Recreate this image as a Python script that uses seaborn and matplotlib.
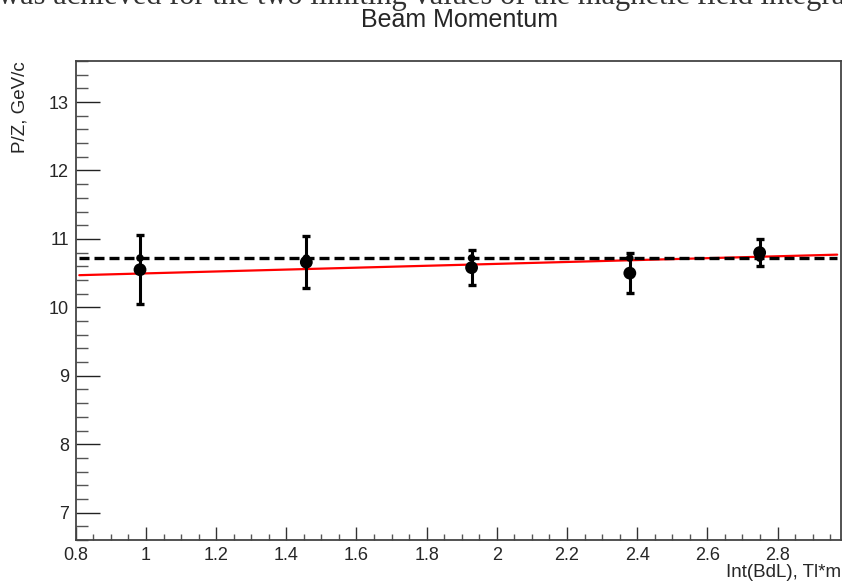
import numpy as np
import pandas as pd
import matplotlib
matplotlib.use("Agg")
import matplotlib.pyplot as plt
import seaborn as sns
from matplotlib.ticker import MultipleLocator

# ---- data ----
bdl = [0.983, 1.457, 1.928, 2.379, 2.749]            # Int(BdL), Tl*m
pz = [10.55, 10.66, 10.58, 10.50, 10.80]              # P/Z, GeV/c
pz_err = [0.50, 0.38, 0.26, 0.29, 0.20]
pz_ref = [10.72, 10.72, 10.72, 10.72, 10.72]          # small markers
mean_x = [0.81, 2.97]
mean_y = [10.72, 10.72]                               # dashed mean line
fit_x = [0.81, 2.97]
fit_y = [10.47, 10.77]                                # red linear fit

title = "Beam Momentum"
xlabel = "Int(BdL), Tl*m"
ylabel = "P/Z, GeV/c"
top_text = "was achieved for the two limiting values of the magnetic field integral"

sns.set_theme(style="white")
plt.rcParams['font.family'] = ['Liberation Sans', 'DejaVu Sans']

fig = plt.figure(figsize=(8.42, 5.83), dpi=100)
W, H = 842, 583
ax = fig.add_axes([75.8 / W, 1 - 540 / H, (840.7 - 75.8) / W, (540 - 61) / H])

df = pd.DataFrame({"x": bdl, "y": pz, "yr": pz_ref})
dmean = pd.DataFrame({"x": mean_x, "y": mean_y})
dfit = pd.DataFrame({"x": fit_x, "y": fit_y})

sns.lineplot(data=dfit, x="x", y="y", ax=ax, color="#ff0000", lw=1.6, zorder=2)
sns.lineplot(data=dmean, x="x", y="y", ax=ax, color="black", lw=2.4,
             dashes=False, zorder=3).lines[-1].set_dashes((3.0, 1.5))
ax.errorbar(bdl, pz, yerr=pz_err, fmt="none", ecolor="black", elinewidth=2.2,
            capsize=2.6, capthick=2.4, zorder=4)
sns.scatterplot(data=df, x="x", y="yr", ax=ax, color="black", s=30,
                edgecolor="none", zorder=5)
sns.scatterplot(data=df, x="x", y="y", ax=ax, color="black", s=85,
                edgecolor="none", zorder=6)

ax.set_xlim(0.8, 2.98)
ax.set_ylim(6.6, 13.6)
ax.xaxis.set_major_locator(MultipleLocator(0.2))
ax.xaxis.set_minor_locator(MultipleLocator(0.05))
ax.yaxis.set_major_locator(MultipleLocator(1))
ax.yaxis.set_minor_locator(MultipleLocator(0.2))
ax.set_xticks([0.8, 1.0, 1.2, 1.4, 1.6, 1.8, 2.0, 2.2, 2.4, 2.6, 2.8])
ax.set_xticklabels(["0.8", "1", "1.2", "1.4", "1.6", "1.8", "2", "2.2", "2.4", "2.6", "2.8"])
ax.set_yticks([7, 8, 9, 10, 11, 12, 13])
ax.set_yticklabels(["7", "8", "9", "10", "11", "12", "13"])

ax.tick_params(axis="x", which="major", direction="in", length=9.4, width=1.0,
               color="#333333", labelsize=13, pad=5, top=False, bottom=True)
ax.tick_params(axis="x", which="minor", direction="in", length=4.5, width=1.0,
               color="#555555", top=False, bottom=True)
ax.tick_params(axis="y", which="major", direction="in", length=17, width=1.0,
               color="#222222", labelsize=13, pad=5, left=True, right=False)
ax.tick_params(axis="y", which="minor", direction="in", length=8.6, width=1.0,
               color="#555555", left=True, right=False)
for s in ax.spines.values():
    s.set_color("#444444")
    s.set_linewidth(1.3)
    s.set_visible(True)

ax.set_xlabel(xlabel, fontsize=13.5, loc="right")
ax.xaxis.set_label_coords(1.0, -0.05)
ax.xaxis.label.set_va("top")
ax.set_ylabel(ylabel, fontsize=13.5, loc="top")
ax.yaxis.set_label_coords(-0.062, 1.0)

fig.text(459 / W, 1 - 20 / H, title, fontsize=18, ha="center", va="center")
fig.text(-0.002, 1 - 4 / H, top_text, fontsize=22, ha="left", va="baseline",
         family=["Liberation Serif", "DejaVu Serif"], color="#333333")

fig.savefig("out.png", dpi=100)
